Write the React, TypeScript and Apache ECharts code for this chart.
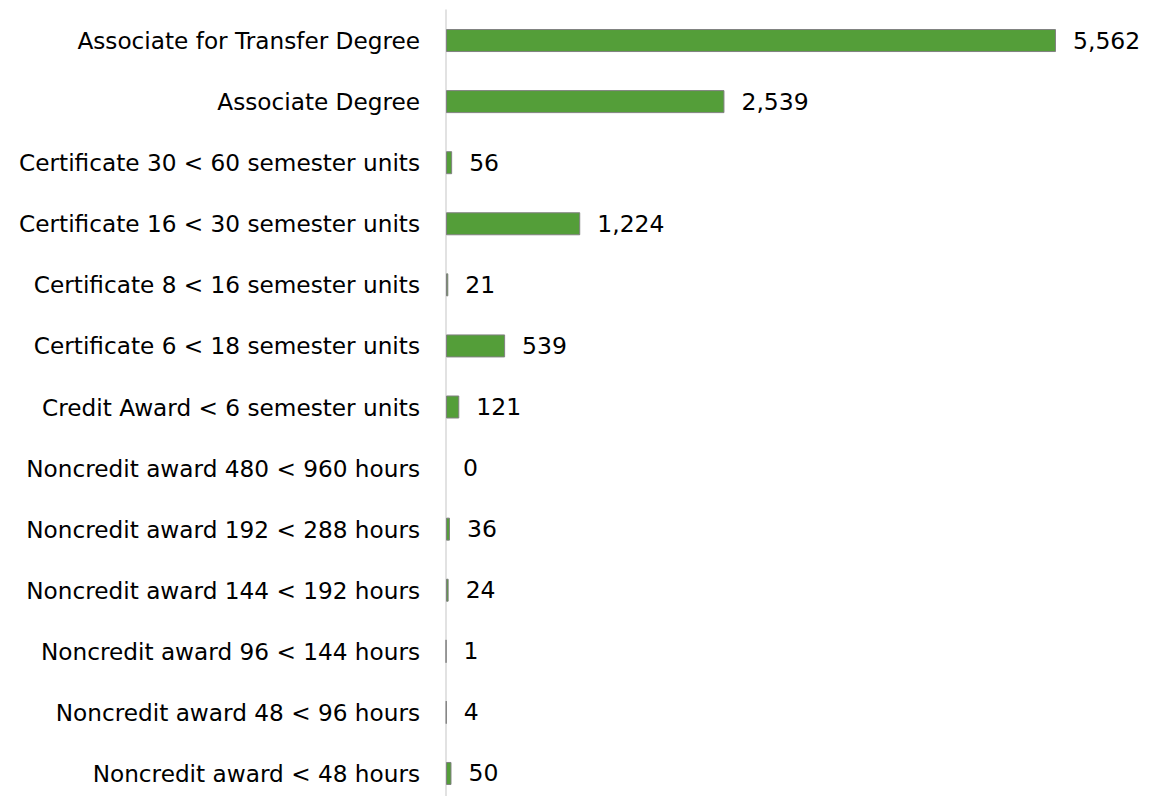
import React, { useEffect, useRef } from "react";
import * as echarts from "echarts";

const categories = [
  "Associate for Transfer Degree",
  "Associate Degree",
  "Certificate 30 < 60 semester units",
  "Certificate 16 < 30 semester units",
  "Certificate 8 < 16 semester units",
  "Certificate 6 < 18 semester units",
  "Credit Award < 6 semester units",
  "Noncredit award 480 < 960 hours",
  "Noncredit award 192 < 288 hours",
  "Noncredit award 144 < 192 hours",
  "Noncredit award 96 < 144 hours",
  "Noncredit award 48 < 96 hours",
  "Noncredit award < 48 hours",
];

const values = [5562, 2539, 56, 1224, 21, 539, 121, 0, 36, 24, 1, 4, 50];

export default function App() {
  const ref = useRef<HTMLDivElement>(null);
  useEffect(() => {
    if (!ref.current) return;
    const chart = echarts.init(ref.current, undefined, { renderer: "svg" });
    const font = "DejaVu Sans";
    chart.setOption({
      animation: false,
      grid: { left: 446, top: 10, width: 658, height: 802, containLabel: false },
      xAxis: {
        type: "value",
        min: 0,
        max: 6000,
        show: false,
      },
      yAxis: {
        type: "category",
        data: categories,
        inverse: true,
        axisLine: { show: true, lineStyle: { color: "#d9d9d9", width: 1.5 } },
        axisTick: { show: false },
        axisLabel: {
          color: "#000",
          fontSize: 23.2,
          fontFamily: font,
          margin: 26,
        },
      },
      series: [
        {
          type: "bar",
          data: values.map((v) =>
            v === 0 ? { value: v, itemStyle: { borderWidth: 0 } } : v
          ),
          barWidth: 23,
          itemStyle: { color: "#549e39", borderColor: "#808080", borderWidth: 1 },
          label: {
            show: true,
            position: "right",
            distance: 17,
            color: "#000",
            fontSize: 23.5,
            fontFamily: font,
            formatter: (p: any) => (p.value as number).toLocaleString("en-US"),
          },
        },
      ],
    });
    return () => chart.dispose();
  }, []);
  return <div ref={ref} style={{ width: 1149, height: 804, margin: -8 }} />;
}
